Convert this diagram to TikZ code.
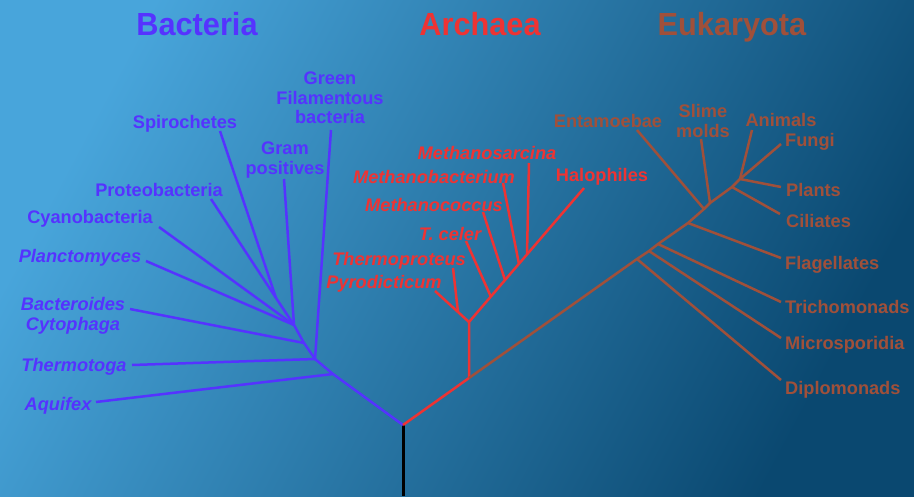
\documentclass[tikz,border=0pt]{standalone}
\usepackage{fontspec}
\setmainfont{Liberation Sans}
\newfontfamily\titlefont[FakeStretch=0.96]{Liberation Sans}
\definecolor{bgTop}{RGB}{72,165,219}
\definecolor{bgBot}{RGB}{10,72,112}
\definecolor{bact}{RGB}{85,51,255}
\definecolor{arch}{RGB}{238,51,51}
\definecolor{euk}{RGB}{160,80,58}
\begin{document}
\begin{tikzpicture}[x=1pt,y=-1pt,
  labtxt/.style={inner sep=0pt, align=center, yshift=-2pt, font=\fontsize{18.2}{19.5}\selectfont\bfseries},
  ilabtxt/.style={labtxt, font=\fontsize{18.2}{19.5}\selectfont\bfseries\itshape},
  titletxt/.style={inner sep=0pt, anchor=base, font=\titlefont\fontsize{32}{36}\selectfont\bfseries},
  bline/.style={draw=bact, line width=2.5pt},
  aline/.style={draw=arch, line width=2.5pt},
  eline/.style={draw=euk, line width=2.5pt},
  btxt/.style={labtxt, text=bact}, bitxt/.style={ilabtxt, text=bact},
  atxt/.style={labtxt, text=arch}, aitxt/.style={ilabtxt, text=arch},
  etxt/.style={labtxt, text=euk},
  ewtxt/.style={labtxt, text=euk, anchor=west}]
\useasboundingbox (0,0) rectangle (914,496);
\shade[top color=bgTop, bottom color=bgBot, shading angle=62] (0,0) rectangle (914,496);

% titles
\node[titletxt, text=bact] (tB) at (197,35) {Bacteria};
\node[titletxt, text=arch] (tA) at (480,35) {Archaea};
\node[titletxt, text=euk] (tE) at (732,35) {Eukaryota};

% root
\coordinate (root) at (403,425);
\coordinate (bot) at (403,496);
\draw[line width=3pt, black] (root) -- (bot);

% ---------------- Bacteria
\coordinate (b1) at (333,374);
\coordinate (b2) at (315,359);
\coordinate (b3) at (304,343);
\coordinate (b4) at (294,325);
\coordinate (b5) at (276,298);
\coordinate (eAq) at (96,402);
\coordinate (eTm) at (132,365);
\coordinate (eGf) at (331,130);
\coordinate (eBc) at (130,309);
\coordinate (eGp) at (284,179);
\coordinate (ePl) at (146,261);
\coordinate (eCy) at (159,227);
\coordinate (ePr) at (211,199);
\coordinate (eSp) at (220,131);
\draw[bline, line join=round] (root) -- (b1) -- (b2) -- (b3) -- (b4) -- (b5);
\draw[bline] (b1) -- (eAq);
\draw[bline] (b2) -- (eTm);
\draw[bline] (b2) -- (eGf);
\draw[bline] (b3) -- (eBc);
\draw[bline] (b4) -- (eGp);
\draw[bline] (b4) -- (ePl);
\draw[bline] (b4) -- (eCy);
\draw[bline] (b5) -- (ePr);
\draw[bline] (b5) -- (eSp);

\node[btxt] (lGf) at (330,96) {Green\\Filamentous\\bacteria};
\node[btxt] (lSp) at (185,122) {Spirochetes};
\node[btxt] (lGp) at (285,158) {Gram\\positives};
\node[btxt] (lPr) at (159,188) {Proteobacteria};
\node[btxt] (lCy) at (90,217) {Cyanobacteria};
\node[bitxt] (lPl) at (80,256) {Planctomyces};
\node[bitxt] (lBc) at (73,314) {Bacteroides\\Cytophaga};
\node[bitxt] (lTm) at (74,365) {Thermotoga};
\node[bitxt] (lAq) at (58,404) {Aquifex};

% ---------------- Archaea
\coordinate (a0) at (469,378);
\coordinate (a1) at (469,322);
\coordinate (a2) at (458,312);
\coordinate (a3) at (491,297);
\coordinate (a4) at (505,280);
\coordinate (a5) at (519,264);
\coordinate (a6) at (527,254);
\coordinate (ePy) at (435,291);
\coordinate (eTp) at (453,268);
\coordinate (eTc) at (466,241);
\coordinate (eMc) at (483,212);
\coordinate (eMb) at (503,183);
\coordinate (eMs) at (529,163);
\coordinate (eHa) at (584,188);
\draw[aline, line join=round] (root) -- (a0) -- (a1) -- (eHa);
\draw[aline] (a1) -- (a2);
\draw[aline] (a2) -- (ePy);
\draw[aline] (a2) -- (eTp);
\draw[aline] (a3) -- (eTc);
\draw[aline] (a4) -- (eMc);
\draw[aline] (a5) -- (eMb);
\draw[aline] (a6) -- (eMs);

\node[aitxt] (lMs) at (487,151) {Methanosarcina};
\node[aitxt] (lMb) at (434,175) {Methanobacterium};
\node[aitxt] (lMc) at (434,203) {Methanococcus};
\node[aitxt] (lTc) at (450,232) {T. celer};
\node[aitxt] (lTp) at (399,259) {Thermoproteus};
\node[aitxt] (lPy) at (384,282) {Pyrodicticum};
\node[atxt] (lHa) at (602,175) {Halophiles};

% ---------------- Eukaryota
\coordinate (e1) at (637,259);
\coordinate (e2) at (649,251);
\coordinate (e3) at (658,244);
\coordinate (e4) at (688,223);
\coordinate (e5) at (704,209);
\coordinate (e6) at (710,203);
\coordinate (e7) at (732,187);
\coordinate (e8) at (740,179);
\coordinate (eDi) at (781,380);
\coordinate (eMi) at (781,338);
\coordinate (eTr) at (781,302);
\coordinate (eFl) at (781,258);
\coordinate (eEn) at (637,130);
\coordinate (eSl) at (701,139);
\coordinate (eCi) at (780,214);
\coordinate (eAn) at (752,130);
\coordinate (eFu) at (781,144);
\coordinate (ePl2) at (781,187);
\draw[eline, line join=round] (a0) -- (e1) -- (e2) -- (e3) -- (e4) -- (e5) -- (e6) -- (e7) -- (e8);
\draw[eline] (e1) -- (eDi);
\draw[eline] (e2) -- (eMi);
\draw[eline] (e3) -- (eTr);
\draw[eline] (e4) -- (eFl);
\draw[eline] (e5) -- (eEn);
\draw[eline] (e6) -- (eSl);
\draw[eline] (e7) -- (eCi);
\draw[eline] (e8) -- (eAn);
\draw[eline] (e8) -- (eFu);
\draw[eline] (e8) -- (ePl2);

\node[etxt] (lEn) at (608,119) {Entamoebae};
\node[etxt] (lSl) at (703,119) {Slime\\molds};
\node[etxt] (lAn) at (781,118) {Animals};
\node[ewtxt] (lFu) at (785,140) {Fungi};
\node[ewtxt] (lPl2) at (786,188) {Plants};
\node[ewtxt] (lCi) at (786,219) {Ciliates};
\node[ewtxt] (lFl) at (785,263) {Flagellates};
\node[ewtxt] (lTr) at (785,305) {Trichomonads};
\node[ewtxt] (lMi) at (785,343) {Microsporidia};
\node[ewtxt] (lDi) at (785,388) {Diplomonads};
\end{tikzpicture}
\end{document}
